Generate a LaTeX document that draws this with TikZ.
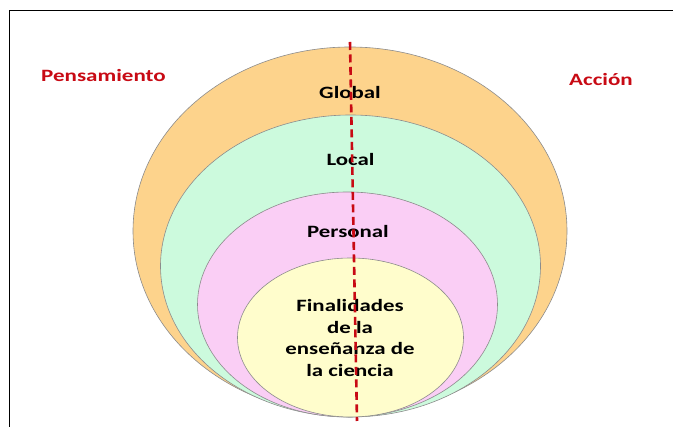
\documentclass[tikz,border=0pt]{standalone}
\usepackage{fontspec}
\setmainfont{Carlito}
\usetikzlibrary{shapes.geometric}
\definecolor{cOrange}{RGB}{253,211,140}
\definecolor{cGreen}{RGB}{204,250,221}
\definecolor{cPink}{RGB}{250,206,245}
\definecolor{cYellow}{RGB}{255,253,204}
\definecolor{cRed}{RGB}{200,10,20}
\definecolor{cEdge}{RGB}{140,140,140}
\begin{document}
\begin{tikzpicture}[x=1pt,y=1pt,
  ring/.style={ellipse, draw=cEdge, line width=0.6pt, inner sep=0pt},
  lbl/.style={font=\fontsize{17.3}{21.5}\selectfont\bfseries, text=black, xscale=1.32, inner sep=0pt, align=center},
  side/.style={font=\fontsize{17.3}{21.5}\selectfont\bfseries, text=cRed, xscale=1.33, inner sep=0pt},
  dashline/.style={draw=cRed, line width=2.6pt, dash pattern=on 8pt off 4.5pt},
  frameline/.style={draw=black, line width=0.9pt}]
\useasboundingbox (0,0) rectangle (673,427);
% frame
\coordinate (fTL) at (9,417);
\coordinate (fTR) at (673,417);
\coordinate (fBL) at (9,0);
\draw[frameline] (fTR) -- (fTL) -- (fBL);
% rings
\node[ring, fill=cOrange, minimum width=434pt, minimum height=368pt] (global) at (350,196) {};
\node[ring, fill=cGreen, minimum width=380pt, minimum height=302pt] (local) at (350.5,161) {};
\node[ring, fill=cPink, minimum width=300pt, minimum height=225pt] (personal) at (347.5,122.5) {};
\node[ring, fill=cYellow, minimum width=226pt, minimum height=159pt] (final) at (350.5,89.5) {};
% labels
\node[side, anchor=base] (pens) at (103.5,345.5) {Pensamiento};
\node[side, anchor=base] (accion) at (601,341.5) {Acción};
\node[lbl, anchor=base] (tglobal) at (350,328) {Global};
\node[lbl, anchor=base] (tlocal) at (350.5,261) {Local};
\node[lbl, anchor=base] (tpersonal) at (348,189) {Personal};
\node[lbl] (tfinal) at (350,89) {Finalidades\\de la\\enseñanza de\\la ciencia};
% dashed axis
\coordinate (dtop) at (350,385);
\coordinate (dbot) at (357,6);
\draw[dashline] (dtop) -- (dbot);
\end{tikzpicture}
\end{document}
